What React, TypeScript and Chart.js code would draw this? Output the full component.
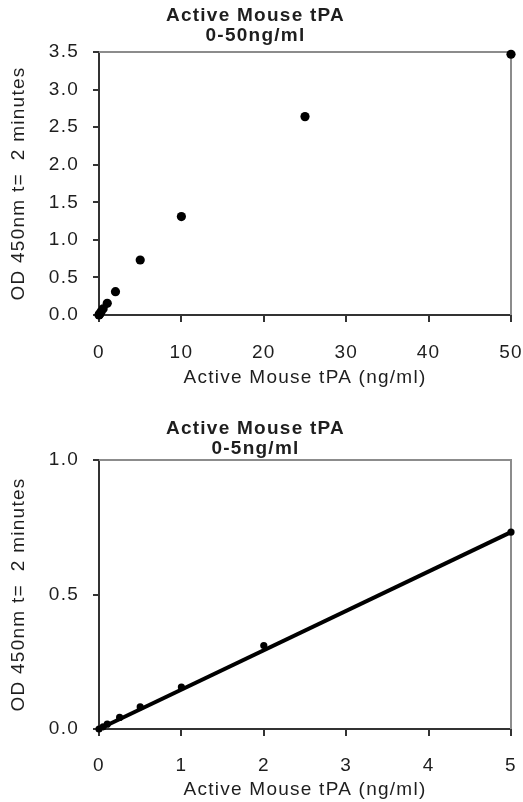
import React, { useEffect, useRef } from 'react';
import { Chart, registerables } from 'chart.js';

Chart.register(...registerables);

// ---------- data ----------
const topTitle = ['Active Mouse tPA', '0-50ng/ml'];
const bottomTitle = ['Active Mouse tPA', '0-5ng/ml'];
const xAxisTitle = 'Active Mouse tPA (ng/ml)';
const yAxisTitle = 'OD 450nm t=  2 minutes';

const concentrationsFull = [0, 0.05, 0.1, 0.25, 0.5, 1, 2, 5, 10, 25, 50];
const odFull = [0, 0.008, 0.018, 0.043, 0.082, 0.156, 0.31, 0.732, 1.31, 2.64, 3.47];

const concentrationsLow = [0, 0.05, 0.1, 0.25, 0.5, 1, 2, 5];
const odLow = [0, 0.008, 0.018, 0.043, 0.082, 0.156, 0.31, 0.732];

const trendX = [0, 5];
const trendY = [0.0, 0.732];

const topXTicks = [0, 10, 20, 30, 40, 50];
const topYTicks = [0, 0.5, 1, 1.5, 2, 2.5, 3, 3.5];
const bottomXTicks = [0, 1, 2, 3, 4, 5];
const bottomYTicks = [0, 0.5, 1];

// ---------- styling ----------
const FONT = "'Liberation Sans', Arial, sans-serif";
const TEXT = '#1e1e1e';
const AXIS = '#333333';
const FRAME = '#8c8c8c';
const SPACING = '1.25px';

const spacingPlugin = {
  id: 'spacing',
  beforeLayout(chart: any) {
    chart.ctx.letterSpacing = SPACING;
  },
  beforeDraw(chart: any) {
    chart.ctx.letterSpacing = SPACING;
  },
};

const framePlugin = {
  id: 'frame',
  beforeDatasetsDraw(chart: any) {
    const { ctx, chartArea } = chart;
    ctx.save();
    ctx.strokeStyle = FRAME;
    ctx.lineWidth = 2;
    ctx.beginPath();
    ctx.moveTo(chartArea.left, chartArea.top);
    ctx.lineTo(chartArea.right, chartArea.top);
    ctx.lineTo(chartArea.right, chartArea.bottom);
    ctx.stroke();
    ctx.restore();
  },
};

function makeOptions(p: {
  title: string[];
  titlePadTop: number;
  titlePadBottom: number;
  xMax: number;
  yMax: number;
  xTicks: number[];
  yTicks: number[];
  xHeight: number;
  xTitlePadBottom: number;
  xTickPad: number;
}) {
  return {
    responsive: false,
    animation: false,
    layout: { padding: { left: 0, right: 12, top: 0, bottom: 0 } },
    plugins: {
      legend: { display: false },
      tooltip: { enabled: false },
      title: {
        display: true,
        text: p.title,
        color: TEXT,
        font: { family: FONT, size: 19, weight: 'bold', lineHeight: '20px' },
        padding: { top: p.titlePadTop, bottom: p.titlePadBottom },
      },
    },
    scales: {
      x: {
        type: 'linear',
        position: 'bottom',
        min: 0,
        max: p.xMax,
        afterBuildTicks: (s: any) => {
          s.ticks = p.xTicks.map((v) => ({ value: v }));
        },
        afterFit: (s: any) => {
          s.height = p.xHeight;
          s.paddingLeft = 0;
          s.paddingRight = 12;
        },
        ticks: {
          color: TEXT,
          font: { family: FONT, size: 19 },
          padding: p.xTickPad,
          maxRotation: 0,
          autoSkip: false,
          callback: (v: any) => String(v),
        },
        grid: { drawOnChartArea: false, drawTicks: true, tickLength: 7, color: AXIS, lineWidth: 2 },
        border: { display: true, color: AXIS, width: 2 },
        title: {
          display: true,
          text: xAxisTitle,
          color: TEXT,
          font: { family: FONT, size: 19 },
          padding: { top: 0, bottom: p.xTitlePadBottom },
        },
      },
      y: {
        type: 'linear',
        position: 'left',
        min: 0,
        max: p.yMax,
        afterBuildTicks: (s: any) => {
          s.ticks = p.yTicks.map((v) => ({ value: v }));
        },
        afterFit: (s: any) => {
          s.width = 99;
        },
        ticks: {
          color: TEXT,
          font: { family: FONT, size: 19 },
          padding: 14,
          autoSkip: false,
          callback: (v: any) => Number(v).toFixed(1),
        },
        grid: { drawOnChartArea: false, drawTicks: true, tickLength: 6, color: AXIS, lineWidth: 2 },
        border: { display: true, color: AXIS, width: 2 },
        title: {
          display: true,
          text: yAxisTitle,
          color: TEXT,
          font: { family: FONT, size: 19 },
          padding: { top: 7, bottom: 0 },
        },
      },
    },
  };
}

export default function App() {
  const topRef = useRef<HTMLCanvasElement>(null);
  const bottomRef = useRef<HTMLCanvasElement>(null);

  useEffect(() => {
    const top = new Chart(topRef.current as HTMLCanvasElement, {
      type: 'scatter',
      data: {
        datasets: [
          {
            data: concentrationsFull.map((x, i) => ({ x, y: odFull[i] })),
            backgroundColor: '#000',
            borderColor: '#000',
            pointRadius: 4.6,
            pointBorderWidth: 0,
            clip: false,
          } as any,
        ],
      },
      options: makeOptions({
        title: topTitle,
        titlePadTop: 6,
        titlePadBottom: 6,
        xMax: 50,
        yMax: 3.5,
        xTicks: topXTicks,
        yTicks: topYTicks,
        xHeight: 80,
        xTitlePadBottom: 6,
        xTickPad: 19,
      }) as any,
      plugins: [spacingPlugin, framePlugin],
    });

    const bottom = new Chart(bottomRef.current as HTMLCanvasElement, {
      type: 'scatter',
      data: {
        datasets: [
          {
            data: trendX.map((x, i) => ({ x, y: trendY[i] })),
            showLine: true,
            borderColor: '#000',
            borderWidth: 4,
            pointRadius: 0,
            clip: false,
          } as any,
          {
            data: concentrationsLow.map((x, i) => ({ x, y: odLow[i] })),
            backgroundColor: '#000',
            borderColor: '#000',
            pointRadius: 3.6,
            pointBorderWidth: 0,
            clip: false,
          } as any,
        ],
      },
      options: makeOptions({
        title: bottomTitle,
        titlePadTop: 19,
        titlePadBottom: 1,
        xMax: 5,
        yMax: 1,
        xTicks: bottomXTicks,
        yTicks: bottomYTicks,
        xHeight: 73,
        xTitlePadBottom: 1,
        xTickPad: 18,
      }) as any,
      plugins: [spacingPlugin, framePlugin],
    });

    return () => {
      top.destroy();
      bottom.destroy();
    };
  }, []);

  return (
    <div style={{ position: 'fixed', left: 0, top: 0, width: 523, height: 802, background: '#fff' }}>
      <canvas ref={topRef} width={523} height={395} style={{ position: 'absolute', left: 0, top: 0 }} />
      <canvas ref={bottomRef} width={523} height={402} style={{ position: 'absolute', left: 0, top: 400 }} />
    </div>
  );
}
